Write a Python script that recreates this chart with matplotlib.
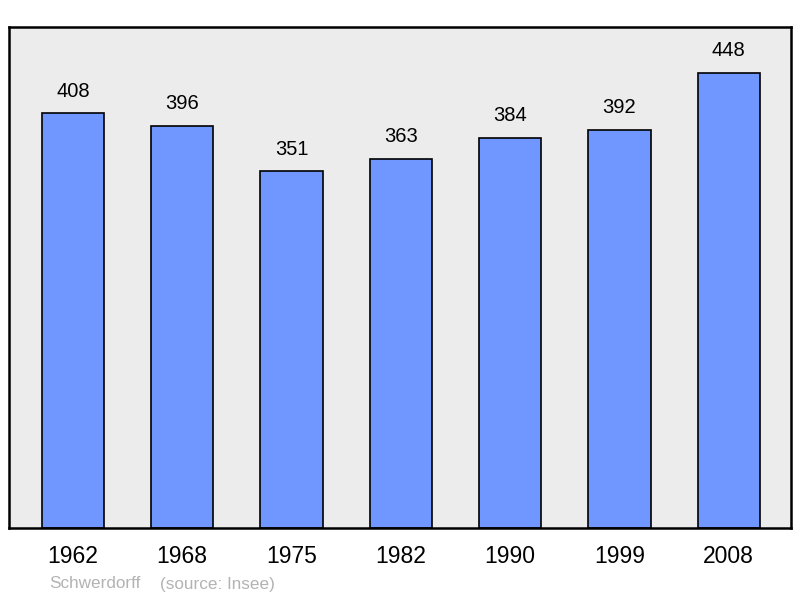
import matplotlib.pyplot as plt

plt.rcParams['font.family'] = ['Liberation Sans', 'DejaVu Sans']

years = ['1962', '1968', '1975', '1982', '1990', '1999', '2008']
population = [408, 396, 351, 363, 384, 392, 448]

fig = plt.figure(figsize=(8, 5.98), dpi=100)
ax = fig.add_axes([9 / 800, 70 / 598, 782 / 800, 501 / 598])
ax.set_facecolor('#ececec')

x = range(len(years))
ax.bar(x, population, width=0.57, color='#7096ff', edgecolor='black', linewidth=1.2, zorder=2)

for xi, v in zip(x, population):
    ax.annotate(str(v), (xi, v), xytext=(0, 16), textcoords='offset points',
                ha='center', va='center', fontsize=14.5)

ax.set_xlim(-0.585, 6.57)
ax.set_ylim(0, 493)
ax.set_xticks(list(x))
ax.set_xticklabels(years, fontsize=16.5)
ax.tick_params(axis='x', length=0, pad=12)
ax.set_yticks([])
for s in ax.spines.values():
    s.set_linewidth(1.8)
    s.set_color('black')

fig.text(49 / 800, 1 - 584 / 598, 'Schwerdorff', color='#b3b3b3', fontsize=12.3, va='center')
fig.text(160 / 800, 1 - 584 / 598, '(source: Insee)', color='#b3b3b3', fontsize=12.3, va='center')

fig.savefig('out.png', dpi=100)
